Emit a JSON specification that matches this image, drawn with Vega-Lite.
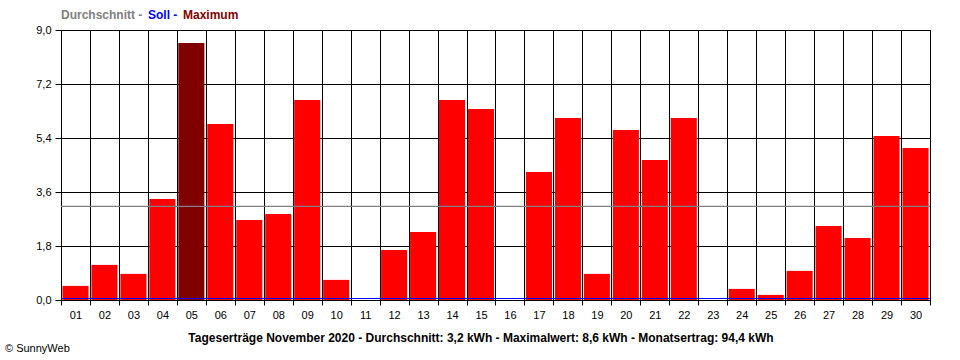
{
  "$schema": "https://vega.github.io/schema/vega-lite/v6.json",
  "width": 869,
  "height": 270,
  "autosize": {"type": "none"},
  "padding": {"left": 61, "top": 30, "right": 30, "bottom": 60},
  "background": "white",
  "title": {
    "text": "© SunnyWeb",
    "orient": "bottom",
    "anchor": "start",
    "frame": "group",
    "dx": -56,
    "offset": 0,
    "font": "Liberation Sans",
    "fontSize": 11,
    "fontWeight": "normal",
    "color": "black"
  },
  "config": {
    "font": "Liberation Sans",
    "view": {"stroke": "black", "strokeWidth": 1},
    "axis": {
      "domainColor": "black",
      "tickColor": "black",
      "gridColor": "black",
      "gridOpacity": 1,
      "labelColor": "black",
      "labelFontSize": 11,
      "labelFont": "Liberation Sans"
    }
  },
  "datasets": {
    "days": [
      {"day": "01", "kwh": 0.47},
      {"day": "02", "kwh": 1.17},
      {"day": "03", "kwh": 0.87},
      {"day": "04", "kwh": 3.37},
      {"day": "05", "kwh": 8.57},
      {"day": "06", "kwh": 5.87},
      {"day": "07", "kwh": 2.67},
      {"day": "08", "kwh": 2.87},
      {"day": "09", "kwh": 6.67},
      {"day": "10", "kwh": 0.67},
      {"day": "11", "kwh": 0},
      {"day": "12", "kwh": 1.67},
      {"day": "13", "kwh": 2.27},
      {"day": "14", "kwh": 6.67},
      {"day": "15", "kwh": 6.37},
      {"day": "16", "kwh": 0},
      {"day": "17", "kwh": 4.27},
      {"day": "18", "kwh": 6.07},
      {"day": "19", "kwh": 0.87},
      {"day": "20", "kwh": 5.67},
      {"day": "21", "kwh": 4.67},
      {"day": "22", "kwh": 6.07},
      {"day": "23", "kwh": 0},
      {"day": "24", "kwh": 0.37},
      {"day": "25", "kwh": 0.17},
      {"day": "26", "kwh": 0.97},
      {"day": "27", "kwh": 2.47},
      {"day": "28", "kwh": 2.07},
      {"day": "29", "kwh": 5.47},
      {"day": "30", "kwh": 5.07}
    ],
    "lines": [
      {"series": "Durchschnitt -", "y": 3.12},
      {"series": "Soll -", "y": 0.05}
    ]
  },
  "layer": [
    {
      "data": {"name": "days"},
      "mark": {"type": "bar", "width": {"band": 0.9}},
      "encoding": {
        "x": {
          "field": "day",
          "type": "ordinal",
          "scale": {"paddingInner": 0, "paddingOuter": 0},
          "axis": {
            "tickBand": "extent",
            "grid": true,
            "labelAngle": 0,
            "tickSize": 5,
            "labelPadding": 4,
            "title": "Tageserträge November 2020 - Durchschnitt: 3,2 kWh - Maximalwert: 8,6 kWh - Monatsertrag: 94,4 kWh",
            "titleFont": "Liberation Sans",
            "titleFontSize": 12,
            "titleFontWeight": "bold",
            "titleColor": "black",
            "titleX": 419.5,
            "titleY": 37,
            "titleAlign": "center",
            "titleBaseline": "middle"
          }
        },
        "y": {
          "field": "kwh",
          "type": "quantitative",
          "scale": {"domain": [0, 9], "nice": false, "zero": true},
          "axis": {
            "values": [0, 1.8, 3.6, 5.4, 7.2, 9],
            "labelExpr": "replace(format(datum.value, '.1f'), '.', ',')",
            "grid": true,
            "tickSize": 6,
            "labelPadding": 4,
            "title": null
          }
        },
        "color": {
          "condition": {"test": "datum.day === '05'", "value": "#800000"},
          "value": "#ff0000"
        }
      }
    },
    {
      "data": {"name": "lines"},
      "mark": {"type": "rule", "strokeWidth": 1.2},
      "encoding": {
        "y": {"field": "y", "type": "quantitative"},
        "color": {
          "field": "series",
          "type": "nominal",
          "scale": {
            "domain": ["Durchschnitt -", "Soll -", "Maximum"],
            "range": ["#808080", "#0000ff", "#800000"]
          },
          "legend": {
            "title": null,
            "orient": "none",
            "legendX": -12,
            "legendY": -21,
            "direction": "horizontal",
            "columns": 3,
            "columnPadding": -7,
            "gridAlign": "none",
            "padding": 0,
            "symbolSize": 0,
            "symbolStrokeWidth": 0,
            "symbolOpacity": 0,
            "labelOffset": 0,
            "labelFont": "Liberation Sans",
            "labelFontSize": 12,
            "labelFontWeight": "bold",
            "labelLimit": 300,
            "encode": {
              "labels": {
                "update": {"fill": {"scale": "color", "field": "value"}}
              }
            }
          }
        }
      }
    }
  ]
}
